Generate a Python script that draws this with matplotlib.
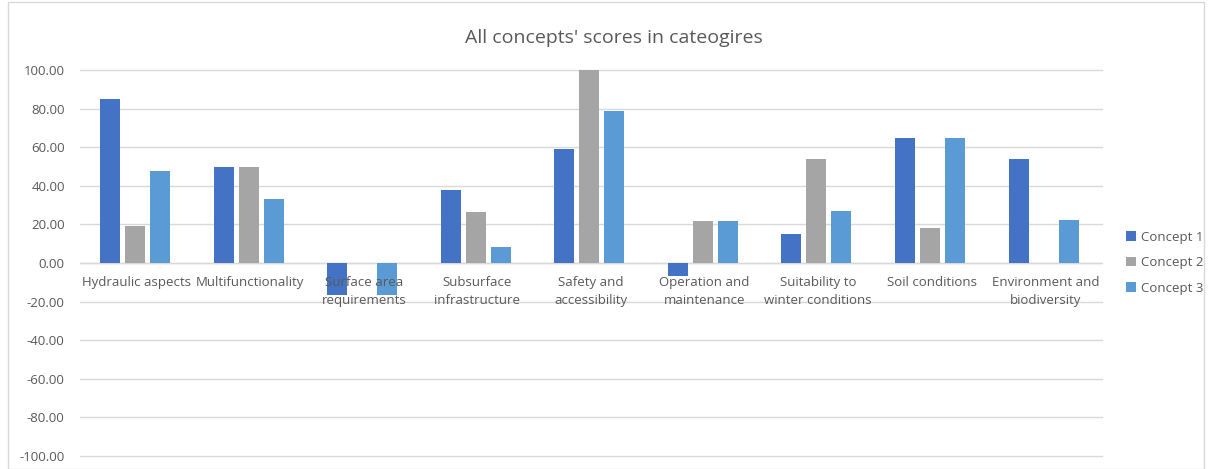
import matplotlib.pyplot as plt
import numpy as np
from matplotlib.patches import Rectangle
from matplotlib.transforms import offset_copy

categories = ["Hydraulic aspects", "Multifunctionality", "Surface area\nrequirements",
              "Subsurface\ninfrastructure", "Safety and\naccessibility", "Operation and\nmaintenance",
              "Suitability to\nwinter conditions", "Soil conditions", "Environment and\nbiodiversity"]
concept1 = [85.0, 50.0, -16.7, 38.0, 59.1, -6.9, 15.2, 64.7, 54.0]
concept2 = [19.3, 50.0, 0.0, 26.2, 100.0, 21.9, 53.8, 18.3, 0.0]
concept3 = [47.9, 33.3, -16.7, 8.3, 78.8, 21.9, 26.7, 64.7, 22.1]
series_names = ["Concept 1", "Concept 2", "Concept 3"]
colors = ["#4472C4", "#A5A5A5", "#5B9BD5"]

plt.rcParams['font.family'] = ['Open Sans', 'DejaVu Sans']
txt = "#595959"

fig = plt.figure(figsize=(12.08, 4.69), dpi=100)
ax = fig.add_axes([0.0662, 0.0277, 0.9123 - 0.0662, 0.8507 - 0.0277])

x = np.arange(len(categories))
w = 0.176
step = 0.22
for i, (vals, name, c) in enumerate(zip([concept1, concept2, concept3], series_names, colors)):
    ax.bar(x + (i - 1) * step - 0.015, vals, width=w, color=c, label=name,
           edgecolor="none", zorder=2)

ax.set_xlim(-0.5, len(categories) - 0.5)
ax.set_ylim(-100, 100)
ax.set_yticks(np.arange(-100, 101, 20))
ax.set_yticklabels([f"{v:.2f}" for v in np.arange(-100, 101, 20)])
ax.tick_params(axis="y", length=0, labelsize=9.5, labelcolor=txt, pad=11)
ax.set_xticks([])
ax.grid(axis="y", color="#D9D9D9", linewidth=1, zorder=0)
for gl in ax.get_ygridlines():
    gl.set_clip_on(False)
ax.axhline(0, color="#D9D9D9", linewidth=1, zorder=1)
for s in ax.spines.values():
    s.set_visible(False)

# category names sit just under the zero line
lab_tr = offset_copy(ax.transData, fig=fig, x=0, y=-13, units="dots")
for xi, name in zip(x, categories):
    ax.text(xi, 0, name, transform=lab_tr, ha="center", va="top",
            fontsize=9.5, color=txt, linespacing=1.45, zorder=5)

fig.text(0.508, 0.92, "All concepts' scores in cateogires", ha="center", va="center",
         fontsize=14, color=txt)

leg = fig.legend(loc="center left", bbox_to_anchor=(0.932, 0.44), frameon=False,
                 handlelength=0.75, handleheight=0.75, handletextpad=0.4,
                 labelspacing=0.95, fontsize=9.5, borderpad=0, borderaxespad=0)
for t in leg.get_texts():
    t.set_color(txt)

fig.patches.append(Rectangle((0.007, 0.0), 0.99, 0.995, transform=fig.transFigure,
                             fill=False, edgecolor="#D9D9D9", linewidth=1))

fig.savefig("out.png", dpi=100)
